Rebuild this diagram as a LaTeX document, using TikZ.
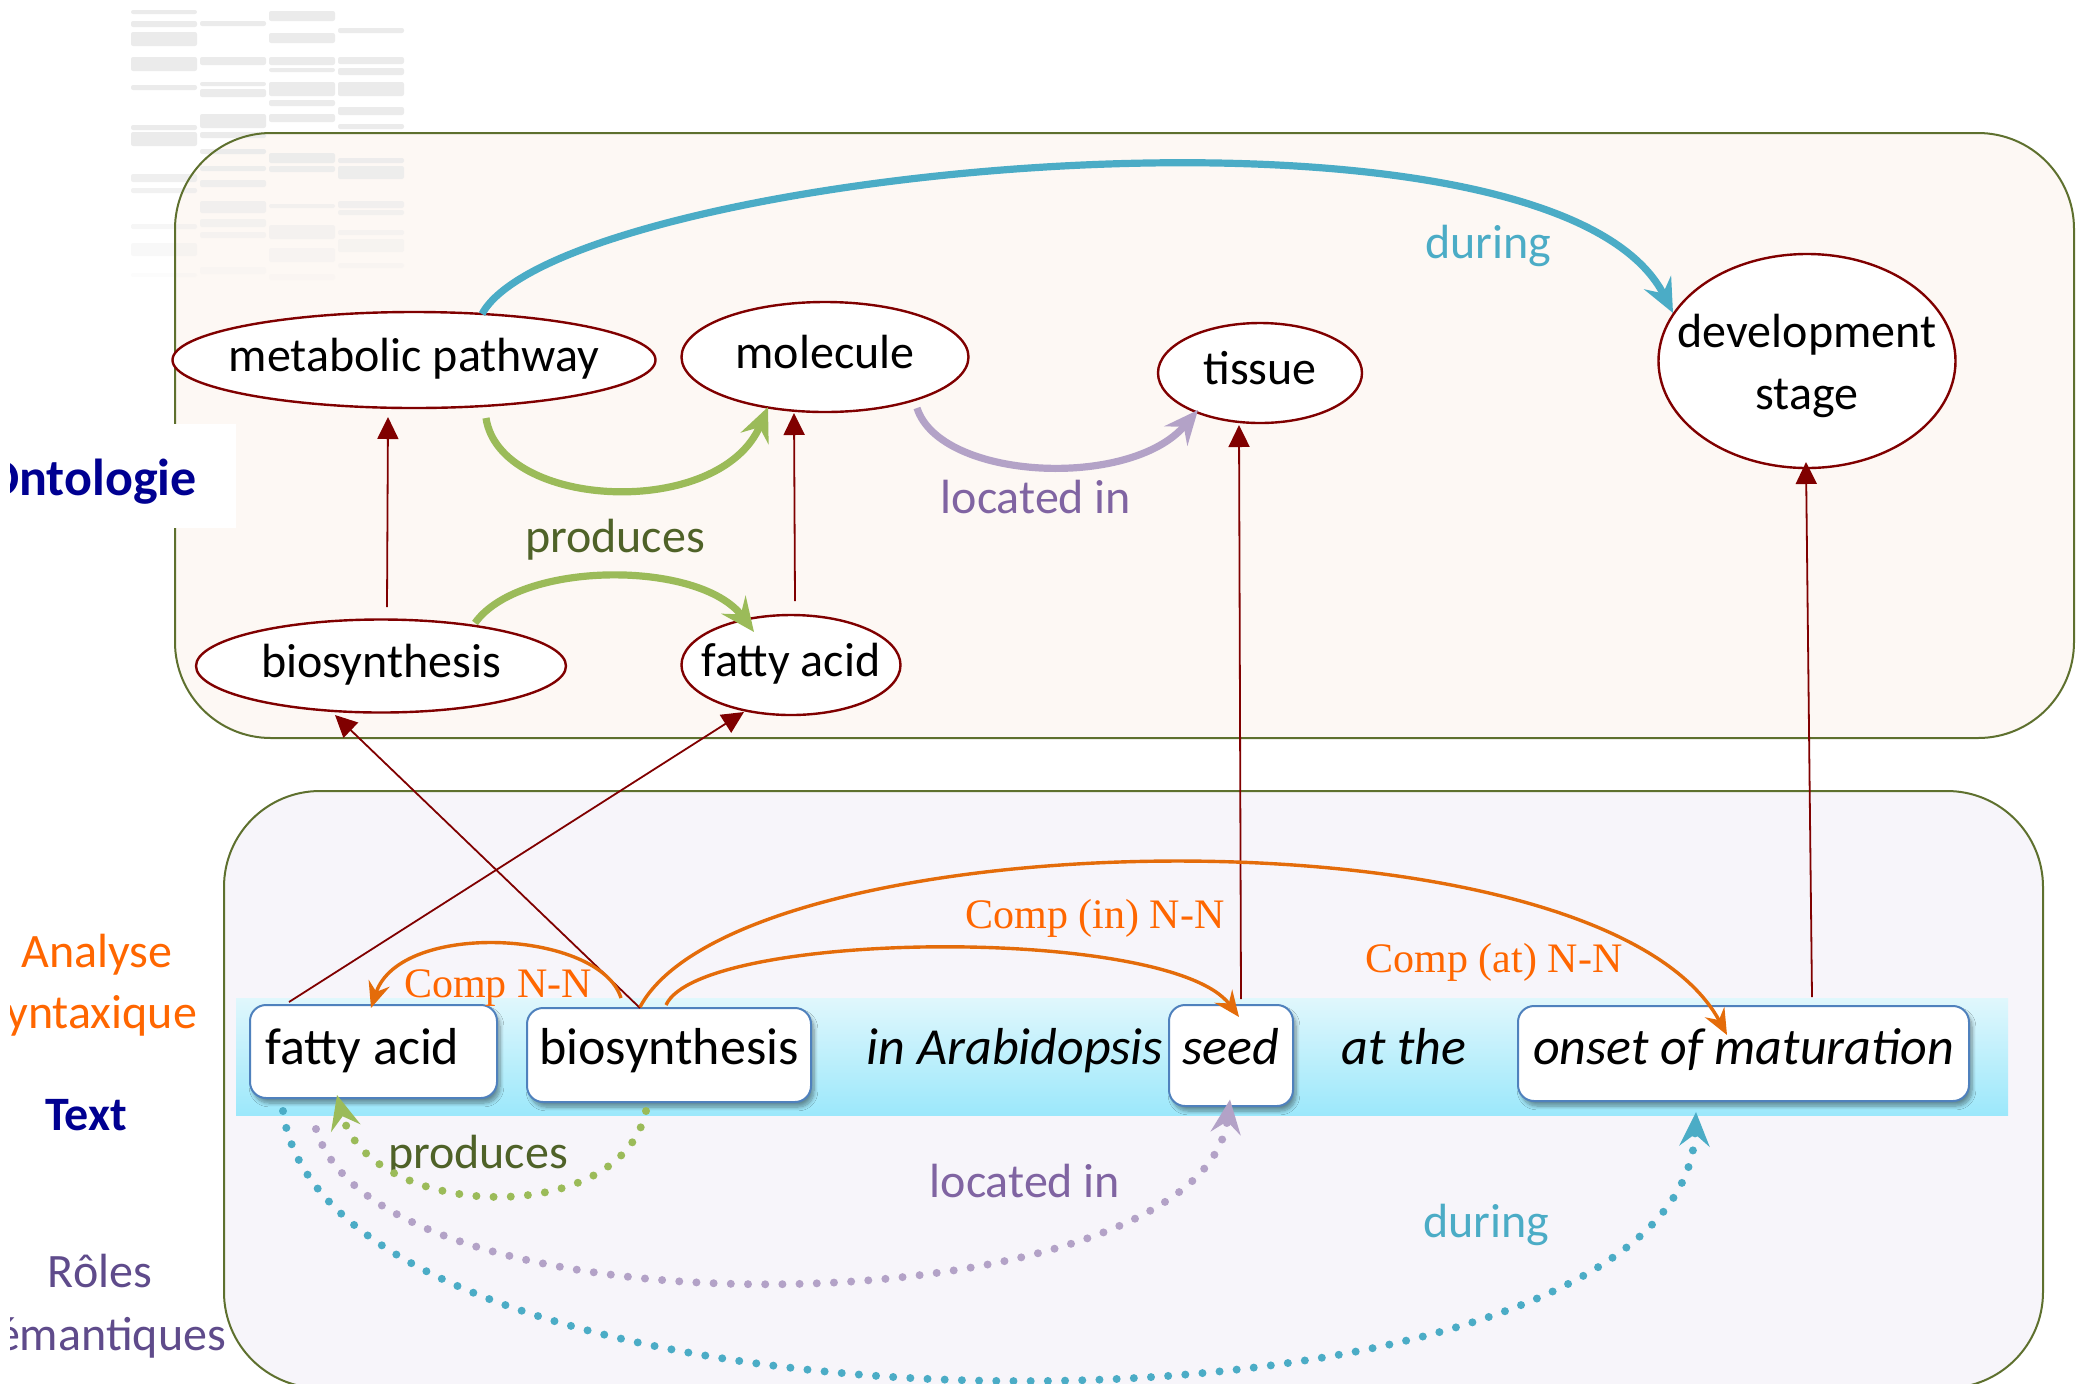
\documentclass[tikz,border=0pt]{standalone}
\usepackage{fontspec}
\setmainfont{Carlito}
\newfontfamily\compfont{Liberation Serif}
\usetikzlibrary{arrows.meta,shapes.geometric,calc,shadows.blur}

\definecolor{ontoRed}{RGB}{128,0,0}
\definecolor{panelGreen}{RGB}{94,112,46}
\definecolor{upperFill}{RGB}{253,248,244}
\definecolor{lowerFill}{RGB}{247,245,250}
\definecolor{relBlue}{RGB}{75,172,198}
\definecolor{relGreen}{RGB}{155,187,89}
\definecolor{relGreenText}{RGB}{79,98,40}
\definecolor{relPurple}{RGB}{179,162,199}
\definecolor{relPurpleText}{RGB}{128,100,162}
\definecolor{synOrange}{RGB}{228,108,10}
\definecolor{synOrangeText}{RGB}{255,102,0}
\definecolor{headBlue}{RGB}{0,0,145}
\definecolor{roleViolet}{RGB}{95,75,139}
\definecolor{boxBlue}{RGB}{79,129,189}
\definecolor{bandTop}{RGB}{224,247,252}
\definecolor{bandBottom}{RGB}{156,232,251}

\begin{document}
\begin{tikzpicture}[x=0.5pt,y=-0.5pt,
  panel/.style={rounded corners=48pt},
  onto/.style={ellipse, draw=ontoRed, line width=1.2pt, fill=white, inner sep=0pt},
  ontotext/.style={font=\fontsize{24}{31}\selectfont, inner sep=0pt, text height=16.8pt, text depth=5pt},
  wordbox/.style={draw=boxBlue, line width=1pt, fill=white, rounded corners=8pt, inner sep=0pt,
    blur shadow={shadow xshift=1.5pt, shadow yshift=-2.5pt, shadow blur steps=8, shadow opacity=40}},
  wordtext/.style={font=\fontsize{26}{31}\selectfont, inner sep=0pt, text height=19.5pt, text depth=6.5pt},
  wordit/.style={wordtext, font=\fontsize{26}{31}\selectfont\itshape},
  plainword/.style={font=\fontsize{26}{31}\selectfont\itshape, inner sep=0pt, anchor=base},
  rellabel/.style={font=\fontsize{24}{29}\selectfont, inner sep=0pt, anchor=base},
  complabel/.style={font=\compfont\fontsize{21}{25}\selectfont, text=synOrangeText, inner sep=0pt, anchor=base},
  sidelabel/.style={font=\fontsize{24}{29}\selectfont, inner sep=0pt, anchor=base},
  isa/.style={draw=ontoRed, line width=0.9pt, -{Triangle[length=11pt,width=10.5pt]}},
  relthick/.style={draw=#1, line width=3.6pt, -{Stealth[length=17pt,width=15pt,inset=6pt]}},
  syn/.style={draw=synOrange, line width=1.7pt, -{Stealth[length=13pt,width=11pt,inset=4.5pt]}},
  reldots/.style={draw=#1, line width=4pt, line cap=round, dash pattern=on 0pt off 8.6pt,
    -{Stealth[length=17pt,width=15pt,inset=6pt]}}
]
\useasboundingbox (0,0) rectangle (2078,1383);

% ontology panel background
\fill[upperFill, panel] (175,133) rectangle (2074,738);

% faded table in the top-left corner
\foreach \c/\a/\b in {131/10/14, 131/21/27, 131/32/46, 131/57/71, 131/85/90, 131/125/130, 131/132/146,
  131/174/182, 131/188/193, 131/224/229, 131/243/256, 131/273/277,
  200/21/26, 200/57/65, 200/82/86, 200/89/97, 200/114/128, 200/132/138, 200/149/154, 200/166/171,
  200/180/187, 200/201/213, 200/219/227, 200/232/238, 200/267/274,
  269/11/21, 269/33/43, 269/57/65, 269/68/72, 269/82/96, 269/100/106, 269/114/122, 269/153/163,
  269/166/172, 269/204/208, 269/225/239, 269/248/262, 269/274/280,
  338/28/33, 338/57/64, 338/68/75, 338/82/96, 338/107/115, 338/124/129, 338/158/163, 338/166/179,
  338/201/208, 338/210/215, 338/230/235, 338/239/252, 338/263/268}{
  \pgfmathsetmacro\op{min(1,max(0,(300-\a)/160))}
  \fill[black!8, opacity=\op, rounded corners=1pt] (\c,\a) rectangle (\c+66,\b);
}

% ontology panel border
\draw[panelGreen, line width=1pt, panel] (175,133) rectangle (2074,738);

% text panel
\draw[panelGreen, line width=1pt, fill=lowerFill, panel] (224,791) rectangle (2043,1388);

% sentence band
\shade[top color=bandTop, bottom color=bandBottom] (236,998) rectangle (2008,1115);

% layer titles, cut at the left margin
\fill[white] (0,424) rectangle (236,528);
\begin{scope}
  \clip (10,0) rectangle (260,1383);
  \node[sidelabel, font=\fontsize{26}{30}\selectfont\bfseries, text=headBlue, anchor=base east] (ontoTitle) at (197,495) {Ontologie};
  \node[sidelabel, text=synOrangeText] (synA) at (97,967) {Analyse};
  \node[sidelabel, text=synOrangeText] (synB) at (91,1028) {Syntaxique};
  \node[sidelabel, font=\fontsize{24}{29}\selectfont\bfseries, text=headBlue] (textTitle) at (86,1130) {Text};
  \node[sidelabel, text=roleViolet] (roleA) at (100,1287) {Rôles};
  \node[sidelabel, text=roleViolet] (roleB) at (100,1350) {Sémantiques};
\end{scope}

% ontology concepts
\node[onto, minimum width=241.5pt, minimum height=48pt, label={[ontotext]center:metabolic pathway}] (mp) at (414,360) {};
\node[onto, minimum width=143.5pt, minimum height=55pt, label={[ontotext]center:molecule}] (mol) at (825,357) {};
\node[onto, minimum width=185pt, minimum height=46.5pt, label={[ontotext]center:biosynthesis}] (bU) at (381,666) {};
\node[onto, minimum width=109.5pt, minimum height=50pt, label={[ontotext]center:fatty acid}] (fU) at (791,665) {};
\node[onto, minimum width=102pt, minimum height=50pt, label={[ontotext]center:tissue}] (tis) at (1260,373) {};
\node[onto, minimum width=148.5pt, minimum height=107pt,
  label={[font=\fontsize{24}{31}\selectfont, align=center, inner sep=0pt, yshift=-2.5pt]center:{development\\stage}}] (dev) at (1807,361) {};

% sentence words
\node[wordbox, minimum width=123.5pt, minimum height=46.5pt, label={[wordtext, xshift=-5.5pt]center:fatty acid}] (fa) at (373.5,1051.5) {};
\node[wordbox, minimum width=142pt, minimum height=47pt, label={[wordtext, yshift=1.75pt]center:biosynthesis}] (bios) at (669,1055) {};
\node[wordbox, minimum width=62pt, minimum height=50.5pt, label={[wordit, yshift=2pt]center:seed}] (seed) at (1231,1055.5) {};
\node[wordbox, minimum width=225.5pt, minimum height=47.5pt, label={[wordit, yshift=1.25pt]center:onset of maturation}] (onset) at (1743.5,1053.5) {};
\node[plainword] (inArab) at (1015,1064) {in Arabidopsis};
\node[plainword] (atThe) at (1404,1064) {at the};

% relation labels
\node[rellabel, text=relBlue] (lDurU) at (1488,258) {during};
\node[rellabel, text=relPurpleText] (lLocU) at (1036,513) {located in};
\node[rellabel, text=relGreenText] (lProdU) at (615,552) {produces};
\node[rellabel, text=relGreenText] (lProdL) at (478,1168) {produces};
\node[rellabel, text=relPurpleText] (lLocL) at (1025,1197) {located in};
\node[rellabel, text=relBlue] (lDurL) at (1486,1237) {during};
\node[complabel] (cNN) at (498,997) {Comp N-N};
\node[complabel] (cIn) at (1095,928) {Comp (in) N-N};
\node[complabel] (cAt) at (1494,972) {Comp (at) N-N};

% ontology relations
\draw[relthick=relBlue] ($(mp.center)+(68,-46)$) .. controls (560,170) and (1550,70) .. ($(dev.center)+(-134,-48)$);
\draw[relthick=relGreen] ($(mp.center)+(72,58)$) .. controls (500,510) and (720,520) .. ($(mol.center)+(-57,50)$);
\draw[relthick=relGreen] ($(bU.center)+(94,-43)$) .. controls (520,560) and (700,560) .. ($(fU.center)+(-37,-33)$);
\draw[relthick=relPurple] ($(mol.center)+(92,51)$) .. controls (940,480) and (1130,490) .. ($(tis.center)+(-62,37)$);

% is-a links and word-to-concept links
\draw[isa] ($(bU.center)+(6,-59)$) -- ($(mp.center)+(-26,57)$);
\draw[isa] ($(fU.center)+(4,-64)$) -- ($(mol.center)+(-31,56)$);
\draw[isa] ($(seed.center)+(10,-56.5)$) -- ($(tis.center)+(-21,52)$);
\draw[isa] ($(onset.center)+(68.5,-56.5)$) -- ($(dev.center)+(-1,101)$);
\draw[isa] ($(fa.center)+(-84.5,-49.5)$) -- ($(fU.center)+(-47,47)$);
\draw[isa] ($(bios.center)+(-29,-47)$) -- ($(bU.center)+(-46,49)$);

% syntactic dependencies
\draw[syn] ($(bios.center)+(-48,-57)$) .. controls (600,930) and (400,920) .. ($(fa.center)+(-2.5,-43.5)$);
\draw[syn] ($(bios.center)+(-3,-50)$) .. controls (700,930) and (1170,925) .. ($(seed.center)+(8,-38.5)$);
\draw[syn] ($(bios.center)+(-29,-48)$) .. controls (740,820) and (1600,800) .. ($(onset.center)+(-16.5,-18.5)$);

% semantic roles
\draw[reldots=relGreen] ($(bios.center)+(-23,56)$) .. controls (620,1230) and (370,1220) .. ($(fa.center)+(-36.5,43.5)$);
\draw[reldots=relPurple] ($(fa.center)+(-57.5,77.5)$) .. controls (380,1345) and (1200,1330) .. ($(seed.center)+(-1,44)$);
\draw[reldots=relBlue] ($(fa.center)+(-90.5,59.5)$) .. controls (330,1463) and (1680,1472) .. ($(onset.center)+(-47.5,58.5)$);
\end{tikzpicture}
\end{document}
